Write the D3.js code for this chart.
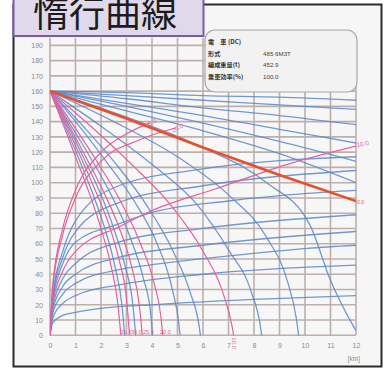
<!DOCTYPE html>
<html><head><meta charset="utf-8">
<script src="https://cdn.jsdelivr.net/npm/d3@7"></script>
<style>
body{margin:0;background:#fff}
svg{display:block}
</style>
</head><body>
<svg id="chart" width="391" height="372"></svg>
<script>
// Axis ticks
const xTickValues = [0,1,2,3,4,5,6,7,8,9,10,11,12];
const yTickValues = [0,10,20,30,40,50,60,70,80,90,100,110,120,130,140,150,160,170,180,190];

// Info panel rows
const infoLabels = ["電　車 (DC)", "形式", "編成重量(t)", "乗車効率(%)"];
const infoValues = ["", "485 6M3T", "452.9", "100.0"];

// Coasting from 160 km/h on uphill grades (‰), pink
const pinkDown = [
  {label:"35.0", pts:[[0,160],[0.5,139],[1.0,117],[1.5,95],[2.0,70],[2.4,45],[2.65,22],[2.78,0]]},
  {label:"30.0", pts:[[0,160],[0.6,139],[1.2,117],[1.8,94],[2.3,73],[2.7,50],[3.0,24],[3.12,0]]},
  {label:"25.0", pts:[[0,160],[0.7,139],[1.4,117],[2.1,94],[2.7,71],[3.2,45],[3.5,20],[3.62,0]]},
  {label:"20.0", pts:[[0,160],[0.9,138],[1.8,115],[2.7,90],[3.5,62],[4.1,33],[4.35,12],[4.42,0]]},
  {label:"10.0", pts:[[0,160],[1.6,137],[3.2,112],[4.8,84],[6.0,55],[6.8,27],[7.15,5],[7.2,0]]}
];

// Coasting from 160 km/h, blue (intermediate grades)
const blueDown = [
  [[0,160],[0.55,139],[1.1,117],[1.65,94],[2.15,70],[2.55,45],[2.82,20],[2.93,0]],
  [[0,160],[0.65,139],[1.3,117],[1.95,94],[2.5,70],[2.95,45],[3.25,20],[3.36,0]],
  [[0,160],[0.8,138],[1.6,116],[2.4,92],[3.1,66],[3.65,38],[3.95,14],[4.02,0]],
  [[0,160],[1.1,138],[2.2,114],[3.3,88],[4.2,60],[4.8,30],[5.05,8],[5.1,0]],
  [[0,160],[1.3,137],[2.6,112],[3.8,85],[4.8,56],[5.5,28],[5.85,6],[5.9,0]],
  [[0,160],[2.0,137],[4.0,112],[5.8,85],[7.0,56],[7.9,28],[8.25,6],[8.3,0]],
  [[0,160],[2.5,140],[5.0,117],[7.0,92],[8.5,64],[9.3,36],[9.65,12],[9.75,0]],
  [[0,160],[3.0,143],[6.0,123],[8.5,100],[10.2,72],[11.0,36],[11.6,15],[12,3]],
  [[0,160],[3.0,147],[6.0,134],[9.0,119],[12,100]],
  [[0,160],[3.0,150],[6.0,139],[9.0,127],[12,114]],
  [[0,160],[3.0,152],[6.0,144],[9.0,135],[12,126]],
  [[0,160],[3.0,155],[6.0,149],[9.0,144],[12,138]],
  [[0,160],[3.0,157],[6.0,154],[9.0,151],[12,148]],
  [[0,160],[3.0,159],[6.0,157],[9.0,156],[12,154]]
];

// Coasting from standstill on downhill grades, blue
const blueUp = [
  [[0,0],[0.1,8],[0.5,13],[1,15],[2,17.7],[4,20],[8,23.5],[12,26]],
  [[0,0],[0.1,11],[0.5,21],[1,26],[2.7,33],[6,40],[12,46]],
  [[0,0],[0.1,14],[0.5,27],[1,34],[2.7,43],[3.9,46],[7,52],[10.1,57],[12,59]],
  [[0,0],[0.1,16],[0.5,32],[1,40],[2.7,51],[6,59],[12,68]],
  [[0,0],[0.1,18],[0.5,37],[1,47],[2.7,61],[6,70],[12,79]],
  [[0,0],[0.1,22],[0.5,47],[1,61],[2.7,73],[3.9,80],[7,88],[10.1,93],[12,95]],
  [[0,0],[0.1,24],[0.5,51],[1,68],[2.7,87],[6,98],[12,108]],
  [[0,0],[0.1,26],[0.5,55],[1,75],[2.7,98],[6,109],[12,117]]
];

// Coasting from standstill, pink
const pinkUp = [
  {label:"10.0", pts:[[0,0],[0.1,20],[0.5,42],[1,55],[2.7,71],[3.9,81],[6.5,96],[9.5,113],[12,124]]},
  {label:"15.0", pts:[[0,0],[0.1,32],[0.5,70],[1,95],[2,120],[3,132],[3.9,139]]},
  {label:"20.0", pts:[[0,0],[0.1,30],[0.5,66],[1,90],[2,114],[3.5,128],[4.95,136]]}
];

// Level track, red
const levelLine = [[0,160],[3,142],[6,123],[9,105],[12,88]];

const svg = d3.select("#chart");

// Frame
svg.append("rect").attr("x",13.5).attr("y",4.5).attr("width",368).attr("height",362)
  .attr("fill","#f7f6f6").attr("stroke","#2b2b2b").attr("stroke-width",2);

const x = d3.scaleLinear().domain([0,12]).range([50,356]);
const y = d3.scaleLinear().domain([0,195]).range([335.3,37.7]);

const plot = svg.append("g");
plot.append("rect").attr("x",x(0)).attr("y",y(195)).attr("width",x(12)-x(0)).attr("height",y(0)-y(195))
  .attr("fill","#f8f7f7");

// Grid
plot.append("g").selectAll("line").data(yTickValues).join("line")
  .attr("x1",x(0)).attr("x2",x(12)).attr("y1",d=>y(d)).attr("y2",d=>y(d))
  .attr("stroke","#bcb0ad").attr("stroke-width",1.6);
plot.append("g").selectAll("line").data(xTickValues).join("line")
  .attr("x1",d=>x(d)).attr("x2",d=>x(d)).attr("y1",y(0)).attr("y2",y(195))
  .attr("stroke","#bcb0ad").attr("stroke-width",1.6);

// Axis labels
const yAxis = d3.axisLeft(y).tickValues(yTickValues).tickSize(0).tickPadding(7);
const gy = svg.append("g").attr("transform",`translate(${x(0)},0)`).call(yAxis);
gy.select(".domain").remove();
gy.selectAll("text").attr("font-family","Liberation Sans, sans-serif").attr("font-size",7).attr("fill","#8a8a8a");

const xAxis = d3.axisBottom(x).tickValues(xTickValues).tickSize(0).tickPadding(8);
const gx = svg.append("g").attr("transform",`translate(0,${y(0)})`).call(xAxis);
gx.select(".domain").remove();
gx.selectAll("text").attr("font-family","Liberation Sans, sans-serif").attr("font-size",7).attr("fill","#8a8a8a");

svg.append("text").attr("x",360).attr("y",361).attr("text-anchor","end")
  .attr("font-family","Liberation Sans, sans-serif").attr("font-size",6.5).attr("fill","#8a8a8a").text("[km]");

// Curves
svg.append("defs").append("clipPath").attr("id","pc").append("rect")
  .attr("x",x(0)).attr("y",y(195)).attr("width",x(12)-x(0)).attr("height",y(0)-y(195)+1);
const curves = svg.append("g").attr("clip-path","url(#pc)");
const line = d3.line().x(d=>x(d[0])).y(d=>y(d[1])).curve(d3.curveMonotoneX);

curves.append("g").selectAll("path").data(blueDown.concat(blueUp)).join("path")
  .attr("d",line).attr("fill","none").attr("stroke","#5a88c8").attr("stroke-opacity",0.85).attr("stroke-width",1.3);
curves.append("g").selectAll("path").data(pinkDown.concat(pinkUp)).join("path")
  .attr("d",d=>line(d.pts)).attr("fill","none").attr("stroke","#e2629c").attr("stroke-width",1.2);
curves.append("path").attr("d",line(levelLine)).attr("fill","none").attr("stroke","#e84f2c").attr("stroke-width",2.6);

// Grade labels
const lab = svg.append("g").attr("font-family","Liberation Sans, sans-serif").attr("font-size",5.6).attr("fill","#e2629c");
const bottomLabelX = [120.5, 131, 143, 160];
pinkDown.slice(0,4).forEach((s,i)=>{
  lab.append("text").attr("x",bottomLabelX[i]).attr("y",y(0)-1).text(s.label);
});
{
  const s = pinkDown[4], e = s.pts[s.pts.length-1];
  lab.append("text").attr("font-size",6.2).attr("transform",`translate(${x(e[0])-2},${y(0)+2}) rotate(90)`).text(s.label);
}
{
  const s = pinkUp[0], e = s.pts[s.pts.length-1];
  lab.append("text").attr("font-size",6.4).attr("transform",`translate(${x(e[0])+1},${y(e[1])+1}) rotate(-10)`).text(s.label);
}
pinkUp.slice(1).forEach(s=>{
  const e = s.pts[s.pts.length-1];
  lab.append("text").attr("font-size",6.2).attr("transform",`translate(${x(e[0])-3},${y(e[1])+5}) rotate(-30)`).text(s.label);
});
lab.append("text").attr("fill","#e84f2c").attr("font-size",5)
  .attr("transform",`translate(${x(12)+1},${y(88)+3})`).text("0.0");

// Info panel
const info = svg.append("g");
info.append("rect").attr("x",205).attr("y",30).attr("width",152).attr("height",62).attr("rx",10)
  .attr("fill","#f3f2f2").attr("stroke","#a8a8a8").attr("stroke-width",1.2);
infoLabels.forEach((t,i)=>{
  info.append("text").attr("x",208).attr("y",44+i*11.5).attr("font-family","Noto Sans CJK JP, sans-serif")
    .attr("font-size",6.2).attr("font-weight","bold").attr("fill","#333").text(t);
  info.append("text").attr("x",263).attr("y",44+i*11.5).attr("font-family","Liberation Sans, sans-serif")
    .attr("font-size",6.2).attr("fill","#444").text(infoValues[i]);
});

// Title
svg.append("rect").attr("x",13.5).attr("y",-2).attr("width",190).attr("height",38)
  .attr("fill","#e0d8eb").attr("stroke","#7b5aa6").attr("stroke-width",2);
svg.append("text").attr("x",33).attr("y",27).attr("font-family","Noto Sans CJK JP, sans-serif")
  .attr("font-size",36).attr("fill","#1c1c1c").text("惰行曲線");
</script>
</body></html>
